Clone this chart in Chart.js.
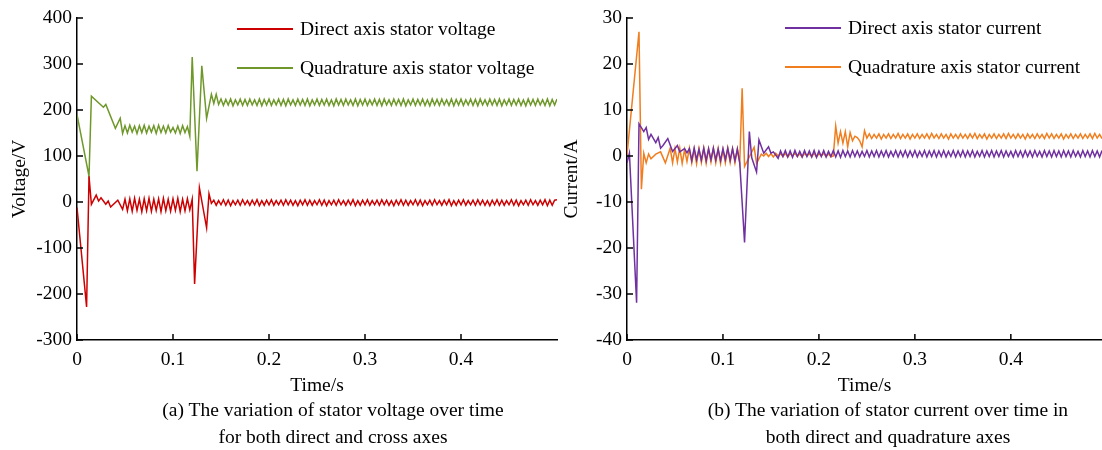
<!DOCTYPE html>
<html>
<head>
<meta charset="utf-8">
<script src="https://cdn.jsdelivr.net/npm/chart.js@4/dist/chart.umd.min.js"></script>
<style>
  body { margin: 0; background: #fff; }
  #wrap { position: relative; width: 1102px; height: 450px; overflow: hidden; font-family: "Liberation Serif", "DejaVu Serif", serif; color: #000; }
  .box { position: absolute; top: 0; height: 400px; }
  .legend { position: absolute; font-size: 19.5px; }
  .legend .row { display: flex; align-items: center; height: 20px; margin-bottom: 19px; white-space: nowrap; }
  .legend .swatch { display: inline-block; width: 56px; height: 2px; margin-right: 7px; }
  .cap { position: absolute; top: 396px; width: 600px; text-align: center; font-size: 19.5px; line-height: 27px; }
</style>
</head>
<body>
<div id="wrap">
  <div class="box" style="left:0;width:560px"><canvas id="chartVolt"></canvas></div>
  <div class="box" style="left:560px;width:542px"><canvas id="chartCur"></canvas></div>
  <div id="legVolt" class="legend" style="left:237px;top:19px"></div>
  <div id="legCur" class="legend" style="left:785px;top:18px"></div>
  <div class="cap" style="left:33px">(a) The variation of stator voltage over time<br>for both direct and cross axes</div>
  <div class="cap" style="left:588px">(b) The variation of stator current over time in<br>both direct and quadrature axes</div>
</div>
<script>
// sample step of the simulation output (s)
const STEP = 0.0025;

const timeTicks = [0, 0.1, 0.2, 0.3, 0.4];
const voltTicks = [-300, -200, -100, 0, 100, 200, 300, 400];
const curTicks = [-40, -30, -20, -10, 0, 10, 20, 30];

// (a) direct axis stator voltage, V
const voltD = [
  -12, null, null, null, -228, 56, -5, null, 15, 2, 9, null, -5, 2, -11, null, null, 4, null, -16,
  6, -19, 7, -20, 8, -18, 6, -21, 7, -19,
  8, -20, 6, -18, 7, -21, 8, -19, 6, -20,
  7, -18, 8, -21, 6, -19, 7,
  -17, 6, -178, null, 31, null, null, -56, 18, -3,
  4, -7, 3, -6, 5, -7, 4, -8, 3, -6,
  4, -7, 5, -6, 3, -7, 4, -6, 5, -8,
  3, -7, 4, -6, 5, -7, 3, -6, 4, -7,
  5, -6, 4, -7, 3, -8, 4, -6, 5, -7,
  4, -7, 3, -6, 5, -7, 4, -8, 3, -6,
  4, -7, 5, -6, 3, -7, 4, -6, 5, -8,
  3, -7, 4, -6, 5, -7, 3, -6, 4, -7,
  5, -6, 4, -7, 3, -8, 4, -6, 5, -7,
  4, -7, 3, -6, 5, -7, 4, -8, 3, -6,
  4, -7, 5, -6, 3, -7, 4, -6, 5, -8,
  3, -7, 4, -6, 5, -7, 3, -6, 4, -7,
  5, -6, 4, -7, 3, -8, 4, -6, 5, -7,
  4, -7, 3, -6, 5, -7, 4, -8, 3, -6,
  4, -7, 5, -6, 3, -7, 4, -6, 5, -8,
  4, -7, 4, 5
];

// (a) quadrature axis stator voltage, V
const voltQ = [
  190, null, null, null, null, 56, 230, null, null, null, null, 206, 212, null, null, null, 160, null, 182, 149,
  166, 150, 167, 152, 165, 149, 166, 151, 167, 150,
  165, 152, 166, 149, 167, 151, 165, 150, 166, 152,
  162, 150, 165, 149, 166, 151, 164,
  143, 315, null, 67, null, 296, null, 182, null, 234, 214, 234, 212,
  224, 210, 223, 211, 224, 209, 222, 211, 224, 210,
  223, 210, 224, 211, 222, 210, 224, 209, 223, 211,
  224, 210, 222, 211, 224, 210, 223, 209, 224, 211,
  222, 210, 224, 211, 223, 210, 224, 209, 222, 211,
  224, 210, 223, 211, 224, 210, 222, 209, 224, 211,
  223, 210, 224, 211, 222, 210, 224, 209, 223, 211,
  224, 210, 222, 211, 224, 210, 223, 209, 224, 211,
  222, 210, 224, 211, 223, 210, 224, 209, 222, 211,
  224, 210, 223, 211, 224, 210, 222, 209, 224, 211,
  223, 210, 224, 211, 222, 210, 224, 209, 223, 211,
  224, 210, 222, 211, 224, 210, 223, 209, 224, 211,
  222, 210, 224, 211, 223, 210, 224, 209, 222, 211,
  224, 210, 223, 211, 224, 210, 222, 209, 224, 211,
  223, 210, 224, 211, 222, 210, 224, 209, 223, 211,
  224
];

// (b) direct axis stator current, A
const curD = [
  -1.5, 0.6, null, null, -31.9, 7.0, null, 5.3, 6.2, 3.6, 4.7, null, 2.9, 4.0, 1.7, 2.3, null, 3.8, null, 1.0, null, 2.3, 0.9, null, 1.6, 0.7,
  1.6, -1.0, 1.7, -0.8, 1.5, -0.9, 1.7, -1.0, 1.6, -0.8,
  1.7, -0.9, 1.5, -1.0, 1.6, -0.8, 1.7, -0.9, 1.6, -1.0,
  1.5,
  -1.5, null, -18.8, null, 5.3, -0.4, null, -3.5, 3.5, null, 0.6, null, 2.0, 0.6, 0.9, null, -0.5,
  1.1, -0.1, 1.2, -0.2, 1.1, -0.3, 1.2, -0.1, 1.0, -0.2,
  1.2, -0.1, 1.1, -0.2, 1.2, -0.3, 1.1, -0.1, 1.2, -0.2,
  1.0, -0.1, 1.2, -0.2, 1.1, -0.3, 1.2, -0.1, 1.1, -0.2,
  1.2, -0.1, 1.1, -0.2, 1.0, -0.1, 1.2, -0.2, 1.1, -0.1,
  1.2, -0.2, 1.1, -0.1, 1.2, -0.2, 1.0, -0.1, 1.2, -0.2,
  1.1, -0.1, 1.2, -0.2, 1.1, -0.1, 1.2, -0.2, 1.0, -0.1,
  1.2, -0.2, 1.1, -0.1, 1.2, -0.2, 1.1, -0.1, 1.2, -0.2,
  1.0, -0.1, 1.2, -0.2, 1.1, -0.1, 1.2, -0.2, 1.1, -0.1,
  1.2, -0.2, 1.0, -0.1, 1.2, -0.2, 1.1, -0.1, 1.2, -0.2,
  1.1, -0.1, 1.2, -0.2, 1.1, -0.1, 1.0, -0.2, 1.2, -0.1,
  1.1, -0.2, 1.2, -0.1, 1.1, -0.2, 1.2, -0.1, 1.0, -0.2,
  1.2, -0.1, 1.1, -0.2, 1.2, -0.1, 1.1, -0.2, 1.2, -0.1,
  1.1, -0.2, 1.2, -0.1, 1.0, -0.2, 1.2, -0.1, 1.1, -0.2,
  1.2, -0.1, 1.1, -0.2, 1.2
];

// (b) quadrature axis stator current, A
const curQ = [
  0.2, null, null, null, null, 27, -7.2, 0.6, -1.5, 0.4, -0.6, null, 0.4, null, 0.9, null, -1.5, null, 1.7,
  -1.5, 1.6, -1.3, 1.7, -1.6, 1.4, -1.2, 1.7, -1.5, 1.5,
  -1.7, 1.6, -1.4, 1.7, -1.6, 1.5, -1.3, 1.7, -1.5, 1.6,
  -1.6, 1.4, -1.5, 1.7, -1.4, 1.6, -1.5, 1.5,
  -1.5, 14.7, -2.3, null, null, null, 1.9, -1.6, null, 0.4,
  0.0, 0.6, -0.1, 0.5, -0.2, 0.6, 0.0, 0.5, -0.1, 0.6,
  -0.2, 0.5, 0.0, 0.6, -0.1, 0.5, -0.2, 0.6, 0.0, 0.5,
  -0.1, 0.6, -0.2, 0.5, 0.0, 0.6, -0.1, 0.5, -0.2,
  0, 6.5, 2.8, 5.3, 2.8, 5.3, 2.0, 5.1, 3.3, 4.3, 4.0, 3.3, 2.0, 5.5,
  3.9, 4.8, 3.8, 4.7, 3.9, 4.8, 3.7, 4.7, 3.9, 4.8,
  3.8, 4.7, 3.9, 4.9, 3.8, 4.7, 3.9, 4.8, 3.7, 4.7,
  3.9, 4.8, 3.8, 4.7, 3.9, 4.8, 3.8, 4.9, 3.9, 4.7,
  3.8, 4.8, 3.9, 4.7, 3.7, 4.8, 3.9, 4.7, 3.8, 4.8,
  3.9, 4.7, 3.8, 4.8, 3.9, 4.9, 3.8, 4.7, 3.9, 4.8,
  3.7, 4.7, 3.9, 4.8, 3.8, 4.7, 3.9, 4.8, 3.8, 4.9,
  3.9, 4.7, 3.8, 4.8, 3.9, 4.7, 3.7, 4.8, 3.9, 4.7,
  3.8, 4.8, 3.9, 4.7, 3.8, 4.9, 3.9, 4.8, 3.8, 4.7,
  3.9, 4.8, 3.7, 4.7, 3.9, 4.8, 3.8, 4.7, 3.9, 4.8,
  3.8, 4.7, 3.9, 4.8, 3.8, 4.9, 3.9, 4.7, 3.8
];

const timeVolt = voltD.map((_, i) => +(i * STEP).toFixed(4));
const timeCur = curD.map((_, i) => +(i * STEP).toFixed(4));

const FONT = { family: '"Liberation Serif", "DejaVu Serif", serif', size: 19.5 };

// ticks point into the plot, like the original figure
const innerTicks = {
  id: 'innerTicks',
  afterDatasetsDraw(chart) {
    const { ctx, chartArea, scales: { x, y } } = chart;
    ctx.save();
    ctx.strokeStyle = '#000';
    ctx.lineWidth = 1.5;
    ctx.beginPath();
    x.ticks.forEach(t => {
      const px = x.getPixelForValue(t.value);
      ctx.moveTo(px, chartArea.bottom);
      ctx.lineTo(px, chartArea.bottom - 6);
    });
    y.ticks.forEach(t => {
      const py = y.getPixelForValue(t.value);
      ctx.moveTo(chartArea.left, py);
      ctx.lineTo(chartArea.left + 6, py);
    });
    ctx.stroke();
    ctx.restore();
  }
};

function makeChart(id, labels, sets, yMin, yMax, yTicks, yTitle, xMax, yWidth, padRight, titlePad) {
  return new Chart(document.getElementById(id), {
    type: 'line',
    data: {
      labels: labels,
      datasets: sets.map(s => ({
        label: s.label,
        data: s.data,
        borderColor: s.color,
        backgroundColor: s.color,
        borderWidth: 1.5,
        pointRadius: 0,
        tension: 0,
        spanGaps: true
      }))
    },
    options: {
      responsive: true,
      maintainAspectRatio: false,
      animation: false,
      layout: { padding: { top: 18, right: padRight, left: 0, bottom: 0 } },
      plugins: { legend: { display: false }, tooltip: { enabled: false } },
      scales: {
        x: {
          type: 'linear',
          min: 0,
          max: xMax,
          afterBuildTicks: s => { s.ticks = timeTicks.map(v => ({ value: v })); },
          afterFit: s => { s.height = 60; },
          grid: { display: false, drawTicks: false },
          border: { display: true, color: '#000', width: 1.5 },
          ticks: { color: '#000', font: FONT, padding: 8, maxRotation: 0, callback: v => String(v) },
          title: { display: true, text: 'Time/s', color: '#000', font: FONT, padding: { top: 0, bottom: 2 } }
        },
        y: {
          min: yMin,
          max: yMax,
          afterBuildTicks: s => { s.ticks = yTicks.map(v => ({ value: v })); },
          afterFit: s => { s.width = yWidth; },
          grid: { display: false, drawTicks: false },
          border: { display: true, color: '#000', width: 1.5 },
          ticks: { color: '#000', font: FONT, padding: 5 },
          title: { display: true, text: yTitle, color: '#000', font: FONT, padding: { top: titlePad, bottom: 0 } }
        }
      }
    },
    plugins: [innerTicks]
  });
}

function buildLegend(chart, elId) {
  const el = document.getElementById(elId);
  chart.data.datasets.forEach(ds => {
    const row = document.createElement('div');
    row.className = 'row';
    const sw = document.createElement('span');
    sw.className = 'swatch';
    sw.style.background = ds.borderColor;
    row.appendChild(sw);
    row.appendChild(document.createTextNode(ds.label));
    el.appendChild(row);
  });
}

const voltChart = makeChart('chartVolt', timeVolt, [
  { label: 'Direct axis stator voltage', data: voltD, color: '#CC0000' },
  { label: 'Quadrature axis stator voltage', data: voltQ, color: '#6F982A' }
], -300, 400, voltTicks, 'Voltage/V', 0.5, 77, 3, 8);

const curChart = makeChart('chartCur', timeCur, [
  { label: 'Direct axis stator current', data: curD, color: '#7030A0' },
  { label: 'Quadrature axis stator current', data: curQ, color: '#F07E1E' }
], -40, 30, curTicks, 'Current/A', 0.495, 67, 0, 0);

buildLegend(voltChart, 'legVolt');
buildLegend(curChart, 'legCur');
</script>
</body>
</html>
